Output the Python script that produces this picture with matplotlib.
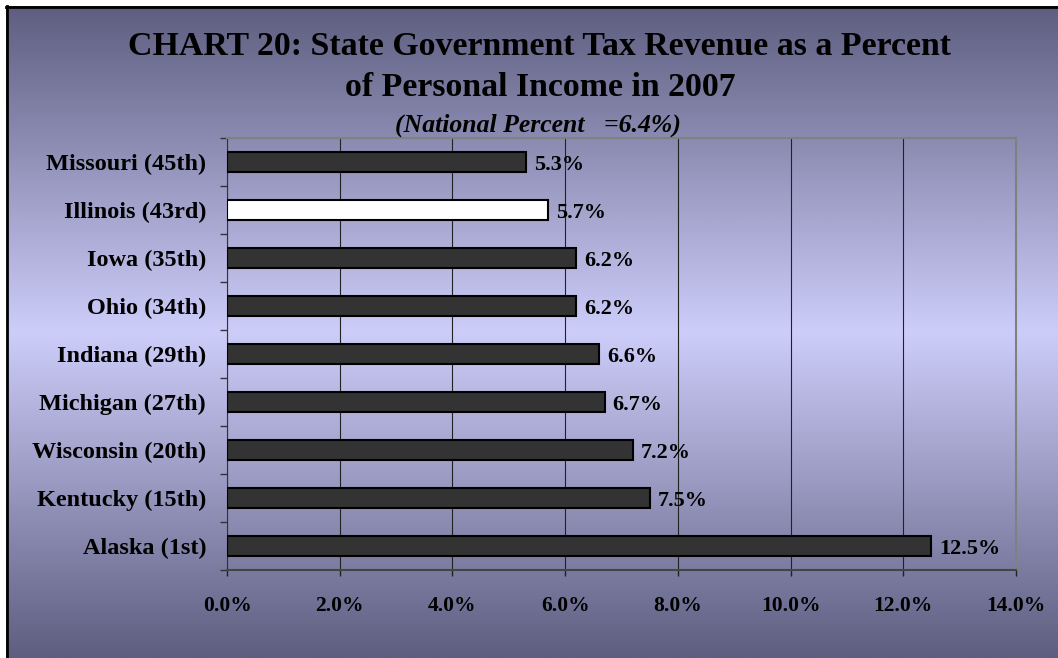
import numpy as np
import matplotlib
matplotlib.use("Agg")
import matplotlib.pyplot as plt
from matplotlib.colors import LinearSegmentedColormap
from matplotlib.lines import Line2D
from matplotlib.ticker import FuncFormatter, MultipleLocator

states = ["Missouri (45th)", "Illinois (43rd)", "Iowa (35th)", "Ohio (34th)",
          "Indiana (29th)", "Michigan (27th)", "Wisconsin (20th)",
          "Kentucky (15th)", "Alaska (1st)"]
tax_pct = [5.3, 5.7, 6.2, 6.2, 6.6, 6.7, 7.2, 7.5, 12.5]
highlight = "Illinois (43rd)"
national_pct = 6.4

title = "CHART 20: State Government Tax Revenue as a Percent\nof Personal Income in 2007"
subtitle = f"(National Percent   ={national_pct}%)"

plt.rcParams['font.family'] = ['Liberation Serif', 'DejaVu Serif']
plt.rcParams['font.weight'] = 'bold'

W, H = 1058, 658
fig = plt.figure(figsize=(W / 100, H / 100), dpi=100, facecolor="white")

# vertical gradient background: dark slate at top/bottom, pale lavender in the middle
bg = fig.add_axes([6 / W, 0, 1 - 6 / W, 1 - 6 / H], zorder=0)
cmap = LinearSegmentedColormap.from_list(
    "bg", [(0.0, "#5e5e80"), (0.5, "#cdcdfa"), (1.0, "#5e5e80")])
grad = np.linspace(0, 1, 512).reshape(-1, 1)
bg.imshow(grad, aspect="auto", cmap=cmap, extent=(0, 1, 0, 1), origin="upper")
bg.set_axis_off()

# frame edge along top and left
fig.add_artist(Line2D([6 / W, 1], [1 - 6.5 / H, 1 - 6.5 / H], color="black", lw=2))
fig.add_artist(Line2D([6.5 / W, 6.5 / W], [0, 1 - 6 / H], color="black", lw=2))

ax = fig.add_axes([227 / W, 1 - 570 / H, (1016 - 227) / W, (570 - 138) / H], zorder=1)
ax.patch.set_visible(False)

y = np.arange(len(states))
colors = ["white" if s == highlight else "#333333" for s in states]
bars = ax.barh(y, tax_pct, height=0.42, color=colors, edgecolor="black",
               linewidth=1.5, zorder=3)

for b, v in zip(bars, tax_pct):
    ax.text(b.get_width() + 0.14, b.get_y() + b.get_height() / 2, f"{v:.1f}%",
            va="center_baseline", ha="left", fontsize=16, fontweight="bold", zorder=4)

ax.set_xlim(0, 14)
ax.set_ylim(len(states) - 0.5, -0.5)
ax.xaxis.set_major_locator(MultipleLocator(2))
ax.xaxis.set_major_formatter(FuncFormatter(lambda v, p: f"{v:.1f}%"))
ax.grid(axis="x", color="#222222", linewidth=0.8, zorder=1)

ax.set_yticks(y)
ax.set_yticklabels(states, va="center_baseline")
ax.set_yticks(np.arange(-0.5, len(states), 1), minor=True)
ax.tick_params(axis="y", which="major", length=0, pad=15, labelsize=17.5)
ax.tick_params(axis="y", which="minor", length=5, width=1, color="#333333")
ax.tick_params(axis="x", which="major", length=4, width=1, pad=15, labelsize=15.5,
               color="#222222")
for lab in ax.get_xticklabels() + ax.get_yticklabels():
    lab.set_fontweight("bold")

ax.spines["left"].set_color("#333333")
ax.spines["bottom"].set_color("#444444")
ax.spines["bottom"].set_linewidth(1.5)
ax.spines["top"].set_color("#808080")
ax.spines["right"].set_color("#808080")
ax.spines["top"].set_linewidth(1.5)
ax.spines["right"].set_linewidth(1.5)

fig.text(540 / W, 1 - 67 / H, title, ha="center", va="center", fontsize=24.4,
         fontweight="bold", linespacing=1.45)
fig.text(538 / W, 1 - 125 / H, subtitle, ha="center", va="center", fontsize=18.5,
         fontweight="bold", style="italic")

fig.savefig("out.png", dpi=100, facecolor=fig.get_facecolor())
